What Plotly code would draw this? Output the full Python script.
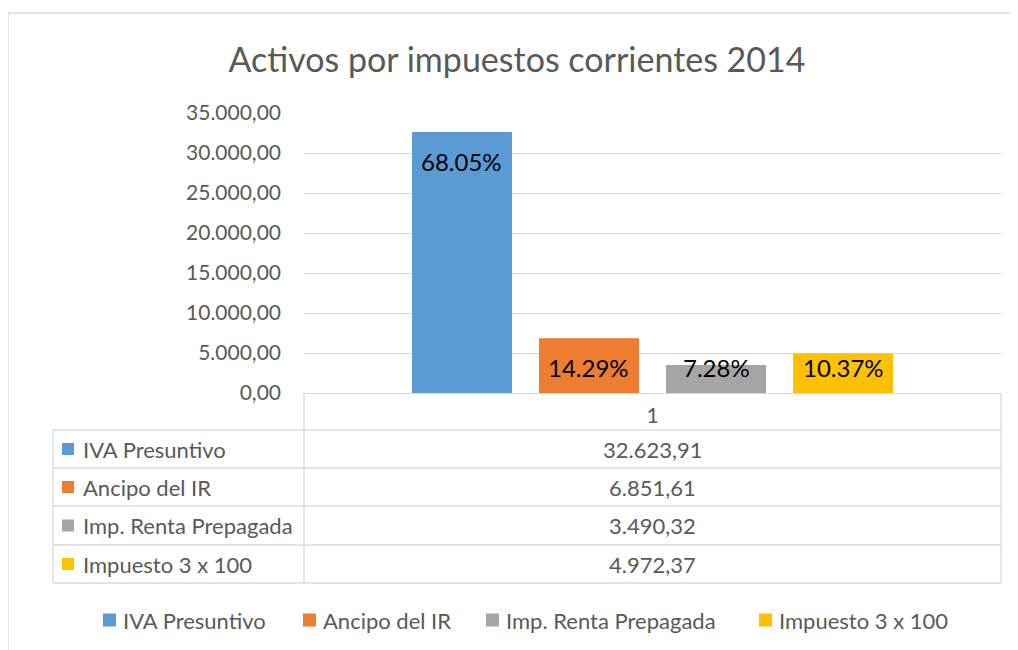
import plotly.graph_objects as go

# ---------------- data ----------------
chart_title = "Activos por impuestos corrientes 2014"
categories = ["1"]
series_names = ["IVA Presuntivo", "Ancipo del IR", "Imp. Renta Prepagada", "Impuesto 3 x 100"]
series_values = [32623.91, 6851.61, 3490.32, 4972.37]
pct_labels = ["68.05%", "14.29%", "7.28%", "10.37%"]
y_tick_values = [0, 5000, 10000, 15000, 20000, 25000, 30000, 35000]

# ---------------- styles / layout constants ----------------
series_colors = ["#5B9BD5", "#ED7D31", "#A5A5A5", "#FFC000"]
label_heights = [28900, 3250, 3250, 3250]   # where the % labels sit (data units)
legend_key_x = [103, 303, 486, 759]         # legend key left edges (page px)
FONT = "Lato, 'Open Sans', sans-serif"
TXT = "#595959"
GRID = "#D9D9D9"
OFF = 8                                     # page body margin
W, H = 1018 - OFF, 650 - OFF
PL, PR, PT, PB = 304, 1001, 113, 393        # plot-area box (page px)
BARGAP, GROUPGAP = 0.271, 0.2126


def px(x):
    return (x - PL) / (PR - PL)


def py(y):
    return (PB - y) / (PB - PT)


def es(v):
    s = f"{v:,.2f}"
    return s.replace(",", "X").replace(".", ",").replace("X", ".")


fig = go.Figure()
for name, val, col in zip(series_names, series_values, series_colors):
    fig.add_trace(go.Bar(x=categories, y=[val], name=name, marker_color=col,
                         marker_line_width=0, hoverinfo="skip", showlegend=False))

shapes = []
annotations = []


def line(x0, y0, x1, y1, color=GRID, width=1.3):
    shapes.append(dict(type="line", xref="paper", yref="paper",
                       x0=px(x0), y0=py(y0), x1=px(x1), y1=py(y1),
                       line=dict(color=color, width=width)))


def key(x0, yc, col, size):
    shapes.append(dict(type="rect", xref="paper", yref="paper",
                       x0=px(x0), x1=px(x0 + size), y0=py(yc - size / 2), y1=py(yc + size / 2),
                       fillcolor=col, line=dict(width=0)))


def text(x, y, s, anchor="left", size=22, color=TXT):
    annotations.append(dict(xref="paper", yref="paper", x=px(x), y=py(y),
                            xanchor=anchor, yanchor="middle", showarrow=False,
                            text=s, font=dict(family=FONT, size=size, color=color)))


# outer chart frame
line(8, 13, 1030, 13)
line(8, 13, 8, 660)

# data table grid
row_edges = [393, 430, 468, 506, 545, 583]
for yy in row_edges[1:]:
    line(53, yy, PR, yy)
line(53, row_edges[1], 53, row_edges[-1])
line(PL, row_edges[0], PL, row_edges[-1])
line(PR, row_edges[0], PR, row_edges[-1])

# table rows: legend key, series name, value
for i, (name, val, col) in enumerate(zip(series_names, series_values, series_colors)):
    yc = (row_edges[i + 1] + row_edges[i + 2]) / 2
    key(62, yc, col, 12)
    text(81, yc, name)
    text((PL + PR) / 2, yc, es(val), anchor="center")

# bottom legend
for name, col, lx in zip(series_names, series_colors, legend_key_x):
    key(lx, 620, col, 13)
    text(lx + 18, 620, name)

# percentage labels over the bars
slot = (PR - PL) * (1 - BARGAP) / len(series_names)
for i, (lab, hy) in enumerate(zip(pct_labels, label_heights)):
    annotations.append(dict(xref="x", yref="y", x=0, y=hy,
                            xshift=(i - (len(series_names) - 1) / 2) * slot,
                            xanchor="center", yanchor="middle", showarrow=False,
                            text=lab, font=dict(family=FONT, size=24, color="#000000")))

fig.update_layout(
    width=W, height=H,
    margin=dict(l=PL - OFF, r=1018 - PR, t=PT - OFF, b=650 - PB, autoexpand=False),
    paper_bgcolor="white", plot_bgcolor="white",
    separators=",.",
    barmode="group", bargap=BARGAP, bargroupgap=GROUPGAP,
    title=dict(text=chart_title, xref="container", yref="container",
               x=(517 - OFF) / W, y=1 - (60 - OFF) / H, xanchor="center", yanchor="middle",
               font=dict(family=FONT, size=34, color=TXT)),
    font=dict(family=FONT, color=TXT),
    showlegend=False,
    xaxis=dict(type="category", showgrid=False, zeroline=False, showline=True,
               linecolor=GRID, linewidth=1.3, ticks="", ticklabelstandoff=4,
               tickfont=dict(family=FONT, size=21, color=TXT), fixedrange=True),
    yaxis=dict(range=[0, 35000], tickvals=y_tick_values, tickformat=",.2f",
               showgrid=True, gridcolor=GRID, gridwidth=1.3, zeroline=False,
               showline=False, ticks="", ticklabelstandoff=22,
               tickfont=dict(family=FONT, size=21, color=TXT), fixedrange=True),
    shapes=shapes, annotations=annotations,
)

fig.write_html("out.html", config={"displayModeBar": False})
